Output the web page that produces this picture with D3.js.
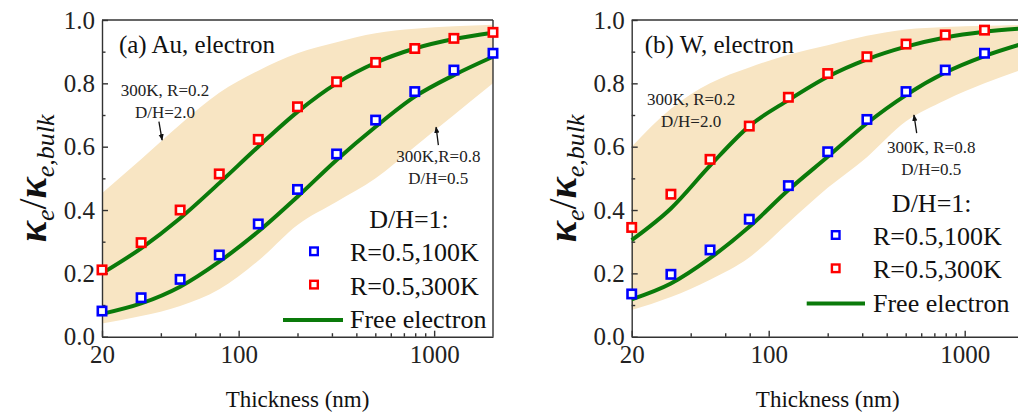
<!DOCTYPE html>
<html>
<head>
<meta charset="utf-8">
<script src="https://cdn.jsdelivr.net/npm/d3@7"></script>
<style>
  body { margin: 0; background: #fff; }
  svg { font-family: "Liberation Serif", "Times New Roman", serif; }
</style>
</head>
<body>
<svg id="chart" width="1018" height="416"></svg>
<script>
// film thickness (nm), same for every series
const thickness = [20, 31.7, 50.2, 79.6, 126, 200, 317, 502, 796, 1262, 2000];

// (a) Au
const auBlue  = [0.081, 0.123, 0.181, 0.258, 0.356, 0.465, 0.577, 0.684, 0.774, 0.842, 0.895];
const auRed   = [0.211, 0.297, 0.400, 0.514, 0.623, 0.726, 0.805, 0.866, 0.910, 0.942, 0.961];
const auFreeLow  = [0.072, 0.105, 0.158, 0.237, 0.332, 0.442, 0.558, 0.663, 0.758, 0.826, 0.884];
const auFreeHigh = [0.200, 0.279, 0.374, 0.485, 0.600, 0.710, 0.800, 0.865, 0.910, 0.940, 0.960];
const auBandLow  = [0.042, 0.065, 0.097, 0.150, 0.240, 0.353, 0.426, 0.500, 0.600, 0.700, 0.800];
const auBandHigh = [0.453, 0.560, 0.670, 0.770, 0.840, 0.895, 0.930, 0.958, 0.972, 0.980, 0.985];

// (b) W
const wBlue  = [0.135, 0.197, 0.274, 0.371, 0.477, 0.584, 0.686, 0.774, 0.842, 0.895, 0.930];
const wRed   = [0.345, 0.450, 0.560, 0.665, 0.756, 0.831, 0.884, 0.924, 0.953, 0.968, 0.975];
const wFreeLow  = [0.118, 0.168, 0.248, 0.347, 0.463, 0.568, 0.674, 0.763, 0.834, 0.886, 0.926];
const wFreeHigh = [0.305, 0.405, 0.540, 0.665, 0.747, 0.821, 0.876, 0.916, 0.945, 0.963, 0.974];
const wBandLow  = [0.084, 0.125, 0.180, 0.250, 0.360, 0.470, 0.567, 0.680, 0.747, 0.800, 0.845];
const wBandHigh = [0.600, 0.720, 0.800, 0.850, 0.890, 0.920, 0.950, 0.970, 0.978, 0.982, 0.985];

// ticks
const xMajor = [20, 100, 1000];
const xMinor = [40, 60, 80, 200, 300, 400, 500, 600, 700, 800, 900];
const yMajor = [0, 0.2, 0.4, 0.6, 0.8, 1.0];
const yMinor = [0.1, 0.3, 0.5, 0.7, 0.9];

const legendLabels = ["D/H=1:", "R=0.5,100K", "R=0.5,300K", "Free electron"];

const panels = [
  {
    left: 102, width: 391, title: "(a) Au, electron",
    blue: auBlue, red: auRed, freeLow: auFreeLow, freeHigh: auFreeHigh,
    bandLow: auBandLow, bandHigh: auBandHigh,
    titlePos: [24.4, 0.896],
    note1: { lines: ["300K, R=0.2", "D/H=2.0"], at: [42, 0.76], arrow: [[39.1, 0.679], [40.6, 0.621]] },
    note2: { lines: ["300K,R=0.8", "D/H=0.5"], at: [1050, 0.552], arrow: [[1051, 0.605], [1023, 0.662]] },
    legend: { head: 409, base: 228, marker: 314, text: 350, line: [283, 343] },
    yTitleX: 46
  },
  {
    left: 631.7, width: 392, title: "(b) W, electron",
    blue: wBlue, red: wRed, freeLow: wFreeLow, freeHigh: wFreeHigh,
    bandLow: wBandLow, bandHigh: wBandHigh,
    titlePos: [23.3, 0.896],
    note1: { lines: ["300K, R=0.2", "D/H=2.0"], at: [40.2, 0.732], arrow: null },
    note2: { lines: ["300K, R=0.8", "D/H=0.5"], at: [675, 0.58], arrow: [[569, 0.643], [551, 0.700]] },
    legend: { head: 931.7, base: 211.7, marker: 835.7, text: 873, line: [806.7, 865] },
    yTitleX: 576
  }
];

const svg = d3.select("#chart");
const yTop = 20, yBottom = 336.7;

svg.append("defs").append("marker")
   .attr("id", "arrow")
   .attr("viewBox", "0 0 10 10")
   .attr("refX", 9).attr("refY", 5)
   .attr("markerWidth", 5).attr("markerHeight", 6)
   .attr("orient", "auto")
   .append("path")
   .attr("d", "M0,1 L10,5 L0,9 Z")
   .attr("fill", "#111");

panels.forEach(p => {
  const x = d3.scaleLog().domain([20, 2000]).range([p.left, p.left + p.width]);
  const y = d3.scaleLinear().domain([0, 1]).range([yBottom, yTop]);
  const g = svg.append("g");
  const idx = d3.range(thickness.length);

  // shaded range
  g.append("path")
   .datum(idx)
   .attr("fill", "#f8e5c3")
   .attr("d", d3.area()
     .x(i => x(thickness[i]))
     .y0(i => y(p.bandLow[i]))
     .y1(i => y(p.bandHigh[i]))
     .curve(d3.curveMonotoneX));

  // axes
  g.append("g").attr("transform", `translate(0,${yBottom})`)
    .call(d3.axisBottom(x).tickValues(xMajor).tickFormat(d3.format("d"))
      .tickSizeInner(-6).tickSizeOuter(0).tickPadding(9));
  g.append("g").attr("transform", `translate(0,${yBottom})`)
    .call(d3.axisBottom(x).tickValues(xMinor).tickFormat("")
      .tickSizeInner(-3.5).tickSizeOuter(0))
    .select(".domain").remove();
  g.append("g").attr("transform", `translate(${p.left},0)`)
    .call(d3.axisLeft(y).tickValues(yMajor).tickFormat(d3.format(".1f"))
      .tickSizeInner(-6).tickSizeOuter(0).tickPadding(7));
  g.append("g").attr("transform", `translate(${p.left},0)`)
    .call(d3.axisLeft(y).tickValues(yMinor).tickFormat("")
      .tickSizeInner(-3.5).tickSizeOuter(0))
    .select(".domain").remove();

  g.selectAll(".tick line, .domain").attr("stroke", "#333").attr("stroke-width", 1.4);
  g.selectAll(".tick text")
   .attr("font-family", "Liberation Serif")
   .attr("font-size", 25)
   .attr("fill", "#222");

  // frame top and right
  g.append("line").attr("x1", p.left).attr("x2", p.left + p.width)
   .attr("y1", yTop).attr("y2", yTop).attr("stroke", "#333").attr("stroke-width", 1.4);
  g.append("line").attr("x1", p.left + p.width).attr("x2", p.left + p.width)
   .attr("y1", yTop).attr("y2", yBottom).attr("stroke", "#333").attr("stroke-width", 1.4);

  // free electron curves
  const line = vals => d3.line()
    .x(i => x(thickness[i]))
    .y(i => y(vals[i]))
    .curve(d3.curveMonotoneX)(idx);
  [p.freeLow, p.freeHigh].forEach(vals => {
    g.append("path").attr("d", line(vals))
     .attr("fill", "none").attr("stroke", "#0a7a0a").attr("stroke-width", 4);
  });

  // points
  [[p.blue, "#0000ff"], [p.red, "#ff0000"]].forEach(([vals, col]) => {
    g.selectAll(null).data(idx).enter().append("rect")
     .attr("x", i => x(thickness[i]) - 4.2)
     .attr("y", i => y(vals[i]) - 4.2)
     .attr("width", 8.4).attr("height", 8.4)
     .attr("fill", "#fff").attr("stroke", col).attr("stroke-width", 2.6);
  });

  // panel title
  g.append("text")
   .attr("x", x(p.titlePos[0])).attr("y", y(p.titlePos[1]))
   .attr("font-size", 25).attr("fill", "#111")
   .text(p.title);

  // annotations
  [p.note1, p.note2].forEach(n => {
    n.lines.forEach((s, k) => {
      g.append("text")
       .attr("x", x(n.at[0])).attr("y", y(n.at[1]) + k * 22)
       .attr("text-anchor", "middle")
       .attr("font-size", 17).attr("fill", "#222")
       .text(s);
    });
    if (n.arrow) {
      g.append("line")
       .attr("x1", x(n.arrow[0][0])).attr("y1", y(n.arrow[0][1]))
       .attr("x2", x(n.arrow[1][0])).attr("y2", y(n.arrow[1][1]))
       .attr("stroke", "#111").attr("stroke-width", 1.3)
       .attr("marker-end", "url(#arrow)");
    }
  });

  // legend
  const L = p.legend;
  g.append("text").attr("x", L.head).attr("y", L.base)
   .attr("text-anchor", "middle").attr("font-size", 26).attr("fill", "#111")
   .text(legendLabels[0]);
  [["#0000ff", 1], ["#ff0000", 2]].forEach(([col, k]) => {
    const by = L.base + k * 33.3;
    g.append("rect")
     .attr("x", L.marker - 3.8).attr("y", by - 10 - 3.8)
     .attr("width", 7.6).attr("height", 7.6)
     .attr("fill", "#fff").attr("stroke", col).attr("stroke-width", 2.4);
    g.append("text").attr("x", L.text).attr("y", by)
     .attr("font-size", 26).attr("fill", "#111").text(legendLabels[k]);
  });
  const ly = L.base + 3 * 33.3;
  g.append("line").attr("x1", L.line[0]).attr("x2", L.line[1])
   .attr("y1", ly - 8).attr("y2", ly - 8)
   .attr("stroke", "#0a7a0a").attr("stroke-width", 4);
  g.append("text").attr("x", L.text).attr("y", ly)
   .attr("font-size", 26).attr("fill", "#111").text(legendLabels[3]);

  // axis titles
  g.append("text")
   .attr("x", p.left + p.width / 2).attr("y", 407)
   .attr("text-anchor", "middle").attr("font-size", 23).attr("fill", "#111")
   .text("Thickness (nm)");

  const yt = g.append("text")
   .attr("transform", `translate(${p.yTitleX},${(yTop + yBottom) / 2}) rotate(-90)`)
   .attr("text-anchor", "middle").attr("fill", "#111");
  yt.append("tspan").attr("font-size", 40).attr("font-weight", "bold").attr("font-style", "italic").text("κ");
  yt.append("tspan").attr("font-size", 26).attr("font-style", "italic").attr("dy", 8).text("e");
  yt.append("tspan").attr("font-size", 40).attr("dy", -8).text("/");
  yt.append("tspan").attr("font-size", 40).attr("font-weight", "bold").attr("font-style", "italic").text("κ");
  yt.append("tspan").attr("font-size", 26).attr("font-style", "italic").attr("dy", 8).text("e,bulk");
});
</script>
</body>
</html>
